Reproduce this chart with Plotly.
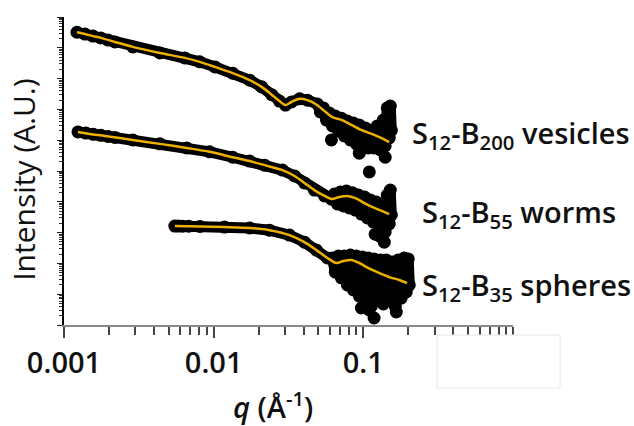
import plotly.graph_objects as go

# ---------------- data (q in 1/Angstrom, intensity in arbitrary units) ----------------
# S12-B200 vesicles
ves_q = [0.00122, 0.00138, 0.00156, 0.00176, 0.00197, 0.00219, 0.00288, 0.00437, 0.00641, 0.00807,
         0.0102, 0.0134, 0.0174, 0.0209, 0.0244, 0.0275, 0.0302, 0.0331, 0.0375, 0.0423,
         0.0493, 0.0516, 0.0541, 0.0567, 0.0593, 0.0621, 0.0650, 0.0681, 0.0713, 0.0747,
         0.0782, 0.0819, 0.0858, 0.0898, 0.0940, 0.0985, 0.1031, 0.1080, 0.113, 0.118,
         0.124, 0.130, 0.136, 0.140, 0.1445, 0.149, 0.1514, 0.1538]
ves_I = [3.2e9, 2.8e9, 2.4e9, 2.1e9, 1.78e9, 1.55e9, 1.07e9, 6.8e8, 4.7e8, 3.5e8,
         2.4e8, 1.5e8, 8.9e7, 5.4e7, 3.0e7, 1.86e7, 1.38e7, 1.74e7, 2.2e7, 2.0e7,
         1.5e7, 8.3e6, 1.12e7, 4.5e6, 7.6e6, 2.9e6, 6.1e6, 2.0e6, 5.2e6, 1.38e6,
         4.2e6, 1.02e6, 3.6e6, 7.6e5, 3.1e6, 6.5e5, 2.5e6, 5.6e5, 2.1e6, 5.6e5,
         2.9e6, 4.8e5, 4.5e6, 6.5e5, 1.12e7, 1.18e6, 1.29e7, 2.1e6]
ves_out_q = [0.0612, 0.094, 0.140, 0.1096]
ves_out_I = [1.02e6, 3.8e5, 2.8e5, 9.3e4]
ves_fit_q = [0.00122, 0.00138, 0.00156, 0.00176, 0.00219, 0.00288, 0.00437, 0.00641, 0.00807, 0.0102,
             0.0134, 0.0174, 0.0209, 0.0244, 0.0275, 0.0302, 0.0331, 0.0375, 0.0423, 0.0479,
             0.0550, 0.0621, 0.0713, 0.0807, 0.094, 0.110, 0.128, 0.149]
ves_fit_I = [3.2e9, 2.8e9, 2.4e9, 2.1e9, 1.55e9, 1.07e9, 6.8e8, 4.7e8, 3.5e8, 2.4e8,
             1.5e8, 8.9e7, 5.4e7, 3.0e7, 1.86e7, 1.38e7, 1.74e7, 2.2e7, 2.0e7, 1.5e7,
             8.9e6, 5.6e6, 4.6e6, 3.4e6, 2.3e6, 1.7e6, 1.26e6, 8.7e5]

# S12-B55 worms
wor_q = [0.00124, 0.0014, 0.00157, 0.00176, 0.00197, 0.00219, 0.00288, 0.00437, 0.0066, 0.0094,
         0.0134, 0.0174, 0.0219, 0.0288, 0.0347, 0.0404, 0.0471, 0.0550, 0.0612,
         0.0641, 0.0671, 0.0703, 0.0736, 0.0771, 0.0807, 0.0845, 0.0885, 0.0927, 0.0970,
         0.1016, 0.1064, 0.1114, 0.1167, 0.1222, 0.128, 0.134, 0.140, 0.1445, 0.149,
         0.1514, 0.1538]
wor_I = [1.85e6, 1.70e6, 1.55e6, 1.44e6, 1.32e6, 1.23e6, 1.02e6, 7.6e5, 5.6e5, 4.2e5,
         2.8e5, 2.1e5, 1.55e5, 1.07e5, 6.9e4, 4.1e4, 2.4e4, 1.55e4, 1.23e4,
         1.78e4, 8.5e3, 2.1e4, 7.3e3, 2.24e4, 6.3e3, 1.95e4, 5.4e3, 1.66e4, 4.0e3,
         1.44e4, 3.0e3, 1.15e4, 2.2e3, 9.8e3, 1.41e3, 8.5e3, 1.05e3, 1.66e4, 1.9e3,
         2.4e4, 3.7e3]
wor_out_q = [0.138, 0.128, 0.120]
wor_out_I = [4.9e2, 7.8e2, 8.9e2]
wor_fit_q = [0.00124, 0.00149, 0.00188, 0.00288, 0.00437, 0.0066, 0.0094, 0.0134, 0.0174, 0.0219,
             0.0288, 0.0347, 0.0404, 0.0471, 0.0550, 0.0612, 0.0692, 0.0782, 0.0885, 0.1016,
             0.1184, 0.149]
wor_fit_I = [1.85e6, 1.58e6, 1.38e6, 1.02e6, 7.6e5, 5.6e5, 4.2e5, 2.8e5, 2.1e5, 1.55e5,
             1.07e5, 6.9e4, 4.1e4, 2.4e4, 1.55e4, 1.23e4, 1.44e4, 1.55e4, 1.32e4, 9.1e3,
             6.3e3, 4.0e3]

# S12-B35 spheres
sph_q = [0.0055, 0.0058, 0.0062, 0.0068, 0.0081, 0.0118, 0.0174, 0.0236, 0.0321, 0.0404,
         0.0486, 0.0575,
         0.0621, 0.0650, 0.0681, 0.0713, 0.0747, 0.0782, 0.0819, 0.0858, 0.0898, 0.094,
         0.0985, 0.1031, 0.108, 0.113, 0.118, 0.124, 0.130, 0.136, 0.1423, 0.149,
         0.156, 0.1634, 0.171, 0.179, 0.1876, 0.1936, 0.1995, 0.2028]
sph_I = [1.63e3, 1.63e3, 1.62e3, 1.61e3, 1.58e3, 1.51e3, 1.41e3, 1.2e3, 8.3e2, 4.9e2,
         2.7e2, 1.5e2,
         150, 52, 174, 34, 174, 20, 187, 13.7, 174, 8.7,
         162, 5.6, 150, 4.1, 139, 6.5, 129, 4.8, 129, 6.5,
         111, 4.1, 129, 7.5, 150, 11.8, 140, 20]
sph_out_q = [0.1096, 0.118, 0.166, 0.097]
sph_out_I = [3.07, 1.69, 2.64, 3.56]
sph_fit_q = [0.0055, 0.0081, 0.0118, 0.0174, 0.0236, 0.0321, 0.0404, 0.0486, 0.0575, 0.0661,
             0.0736, 0.0832, 0.094, 0.105, 0.124, 0.149, 0.174, 0.196]
sph_fit_I = [1.63e3, 1.58e3, 1.51e3, 1.41e3, 1.2e3, 8.3e2, 4.9e2, 2.7e2, 1.5e2, 1.03e2,
             1.2e2, 1.29e2, 1.03e2, 76, 52, 36, 29, 23]

x_major = [0.001, 0.01, 0.1, 1]
x_major_text = ["0.001", "0.01", "0.1", "1"]
x_minor = [m * d for d in [0.001, 0.01, 0.1] for m in range(2, 10)]
y_major = [10 ** k for k in range(0, 11)]
y_minor = [m * 10 ** k for k in range(0, 10) for m in range(2, 10)]

labels = ["S<sub>12</sub>-B<sub>200</sub> vesicles",
          "S<sub>12</sub>-B<sub>55</sub> worms",
          "S<sub>12</sub>-B<sub>35</sub> spheres"]

FIT = "#EDB000"
FONT = "Open Sans"

fig = go.Figure()
series = [
    (ves_q, ves_I, ves_out_q, ves_out_I, ves_fit_q, ves_fit_I),
    (wor_q, wor_I, wor_out_q, wor_out_I, wor_fit_q, wor_fit_I),
    (sph_q, sph_I, sph_out_q, sph_out_I, sph_fit_q, sph_fit_I),
]
for dq, dI, oq, oI, fq, fI in series:
    fig.add_trace(go.Scatter(x=dq, y=dI, mode="lines+markers",
                             line=dict(color="black", width=11),
                             marker=dict(color="black", size=13)))
    fig.add_trace(go.Scatter(x=oq, y=oI, mode="markers",
                             marker=dict(color="black", size=13)))
    fig.add_trace(go.Scatter(x=fq, y=fI, mode="lines",
                             line=dict(color=FIT, width=2.5, shape="spline", smoothing=0.8)))

fig.update_layout(
    width=634, height=426,
    margin=dict(l=64, r=121, t=17, b=101),
    paper_bgcolor="white", plot_bgcolor="white",
    showlegend=False,
    xaxis=dict(type="log", range=[-3, 0], showline=True, linecolor="#8a8a8a", linewidth=2,
               showgrid=False, zeroline=False,
               ticks="outside", tickvals=x_major, ticktext=x_major_text,
               ticklen=11, tickwidth=1.5, tickcolor="#444",
               minor=dict(tickvals=x_minor, ticks="outside", ticklen=8, tickwidth=1.5, tickcolor="#444"),
               tickfont=dict(family=FONT, size=29, color="#111", weight=600)),
    yaxis=dict(type="log", range=[0, 10], showline=True, linecolor="black", linewidth=2,
               showgrid=False, zeroline=False,
               ticks="outside", tickvals=y_major, ticklen=5, tickwidth=1, tickcolor="#222",
               showticklabels=False,
               minor=dict(tickvals=y_minor, ticks="outside", ticklen=3, tickwidth=1, tickcolor="#333")),
)

label_y = [0.617, 0.3636, 0.1234]
label_x = [0.7706, 0.7929, 0.7929]
for t, xx, yy in zip(labels, label_x, label_y):
    fig.add_annotation(text=t, xref="paper", yref="paper", x=xx, y=yy,
                       xanchor="left", yanchor="middle", showarrow=False,
                       font=dict(family=FONT, size=29, color="#111", weight=600))

fig.add_annotation(text="Intensity (A.U.)", xref="paper", yref="paper", x=-0.09, y=0.47,
                   textangle=-90, xanchor="center", yanchor="middle", showarrow=False,
                   font=dict(family=FONT, size=30, color="#111", weight=500))
fig.add_annotation(text="<i>q</i> (Å<sup>-1</sup>)", xref="paper", yref="paper", x=0.4655, y=-0.26,
                   xanchor="center", yanchor="middle", showarrow=False,
                   font=dict(family=FONT, size=29, color="#111", weight=600))

# blank white patch covering the "1" label, as in the original figure
fig.add_shape(type="rect", xref="paper", yref="paper",
              x0=(437 - 64) / 449, x1=(560 - 64) / 449,
              y0=(325 - 388) / 308, y1=(325 - 335) / 308,
              fillcolor="white", line=dict(color="#e8e8e8", width=1), layer="above")

fig.write_html("out.html")
